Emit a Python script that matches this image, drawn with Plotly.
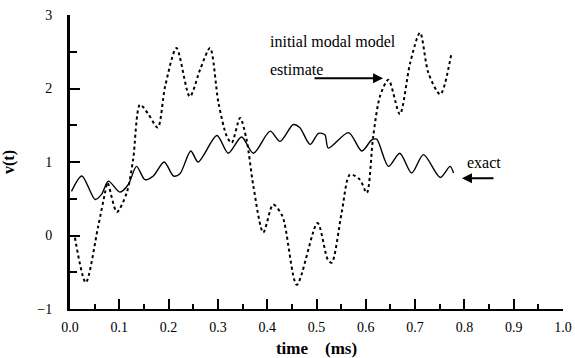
import plotly.graph_objects as go

# exact response
t_exact = [0.003, 0.024, 0.051, 0.064, 0.078, 0.101, 0.118, 0.135, 0.152, 0.169, 0.191, 0.210, 0.223,
           0.245, 0.260, 0.298, 0.321, 0.348, 0.372, 0.406, 0.426, 0.453, 0.466, 0.487, 0.504, 0.517,
           0.524, 0.565, 0.592, 0.612, 0.622, 0.646, 0.669, 0.693, 0.717, 0.751, 0.771, 0.778]
v_exact = [0.60, 0.81, 0.49, 0.56, 0.74, 0.59, 0.69, 0.94, 0.76, 0.81, 1.00, 0.81, 0.84,
           1.15, 1.00, 1.36, 1.12, 1.34, 1.12, 1.42, 1.28, 1.51, 1.47, 1.24, 1.39, 1.37,
           1.19, 1.40, 1.15, 1.30, 1.31, 0.94, 1.12, 0.85, 1.10, 0.79, 0.94, 0.85]

# initial modal model estimate
t_model = [0.010, 0.032, 0.057, 0.071, 0.076, 0.095, 0.115, 0.128, 0.142, 0.159, 0.178, 0.193, 0.216,
           0.243, 0.264, 0.284, 0.301, 0.318, 0.328, 0.345, 0.358, 0.372, 0.392, 0.412, 0.431, 0.460,
           0.502, 0.523, 0.531, 0.551, 0.568, 0.588, 0.602, 0.615, 0.629, 0.646, 0.669, 0.690, 0.710,
           0.727, 0.751, 0.774]
v_model = [-0.03, -0.64, 0.12, 0.58, 0.72, 0.32, 0.58, 1.03, 1.78, 1.65, 1.47, 2.03, 2.55,
           1.89, 2.26, 2.55, 1.81, 1.35, 1.26, 1.60, 1.31, 0.67, 0.04, 0.42, 0.26, -0.67,
           0.17, -0.33, -0.37, 0.31, 0.83, 0.76, 0.58, 1.35, 1.90, 2.12, 1.65, 2.35, 2.76,
           2.21, 1.92, 2.49]

x_ticks = [0.0, 0.1, 0.2, 0.3, 0.4, 0.5, 0.6, 0.7, 0.8, 0.9, 1.0]
x_labels = ["0.0", "0.1", "0.2", "0.3", "0.4", "0.5", "0.6", "0.7", "0.8", "0.9", "1.0"]
y_ticks = [-1, 0, 1, 2, 3]

FONT = "Liberation Serif, Times New Roman, serif"

fig = go.Figure()
fig.add_trace(go.Scatter(x=t_exact, y=v_exact, mode="lines", line=dict(color="black", width=1.4, shape="spline", smoothing=0.8)))
fig.add_trace(go.Scatter(x=t_model, y=v_model, mode="lines", line=dict(color="black", width=2, dash="dot", shape="spline", smoothing=0.8)))

fig.update_layout(
    width=575, height=358,
    margin=dict(l=70, r=12, t=15, b=49),
    paper_bgcolor="white", plot_bgcolor="white",
    showlegend=False,
    font=dict(family=FONT, color="black", size=13),
    xaxis=dict(range=[0, 1], tickvals=x_ticks, ticktext=x_labels, ticks="inside", ticklen=10, tickwidth=2,
               tickcolor="black", showline=True, linecolor="black", linewidth=2, showgrid=False, zeroline=False,
               minor=dict(dtick=0.05, tick0=0, ticks="inside", ticklen=5, tickwidth=2, tickcolor="black"),
               tickfont=dict(family=FONT, size=14), ticklabelstandoff=4, automargin=False,
               title=dict(text="time    (ms)", font=dict(family=FONT, size=17, weight="bold"), standoff=9)),
    yaxis=dict(range=[-1, 3], tickvals=y_ticks, ticks="inside", ticklen=10, tickwidth=2,
               tickcolor="black", showline=True, linecolor="black", linewidth=3, showgrid=False, zeroline=False,
               minor=dict(dtick=0.5, tick0=0, ticks="inside", ticklen=7, tickwidth=2, tickcolor="black"),
               tickfont=dict(family=FONT, size=14), ticklabelstandoff=12, automargin=False,
               title=dict(text="v(t)", font=dict(family=FONT, size=16, weight="bold"), standoff=22)),
)

fig.add_annotation(x=0.402, y=2.64, text="initial modal model", showarrow=False, xanchor="left", yanchor="middle",
                   font=dict(family=FONT, size=16))
fig.add_annotation(x=0.402, y=2.26, text="estimate", showarrow=False, xanchor="left", yanchor="middle",
                   font=dict(family=FONT, size=16))
fig.add_annotation(x=0.635, y=2.14, ax=0.493, ay=2.14, axref="x", ayref="y", xref="x", yref="y",
                   text="", showarrow=True, arrowhead=2, arrowsize=1, arrowwidth=2, arrowcolor="black")
fig.add_annotation(x=0.801, y=0.99, text="exact", showarrow=False, xanchor="left", yanchor="middle",
                   font=dict(family=FONT, size=16))
fig.add_annotation(x=0.795, y=0.78, ax=0.862, ay=0.78, axref="x", ayref="y", xref="x", yref="y",
                   text="", showarrow=True, arrowhead=2, arrowsize=1, arrowwidth=2, arrowcolor="black")

fig.write_html("out.html")
